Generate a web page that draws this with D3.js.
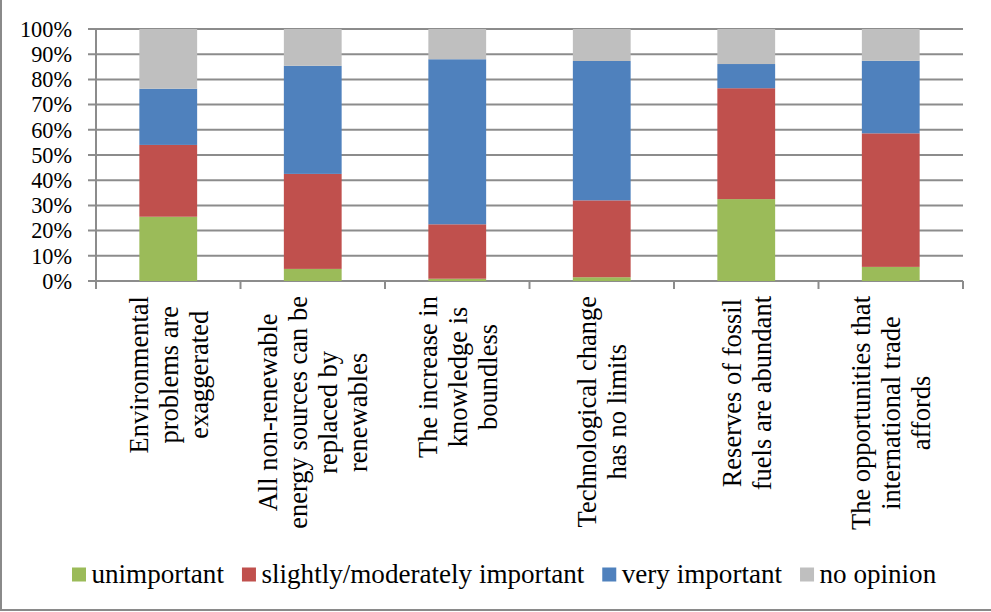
<!DOCTYPE html>
<html>
<head>
<meta charset="utf-8">
<script src="https://cdn.jsdelivr.net/npm/d3@7"></script>
<style>
  html, body { margin: 0; padding: 0; background: #fff; }
  svg { display: block; }
  text { font-family: "Liberation Serif", "Times New Roman", serif; fill: #000; }
</style>
</head>
<body>
<svg id="chart" width="991" height="612"></svg>
<script>
// ---- data ----
const categories = [
  ["Environmental", "problems are", "exaggerated"],
  ["All non-renewable", "energy sources can be", "replaced by", "renewables"],
  ["The increase in", "knowledge is", "boundless"],
  ["Technological change", "has no limits"],
  ["Reserves of fossil", "fuels are abundant"],
  ["The opportunities that", "international trade", "affords"]
];
const seriesNames = ["unimportant", "slightly/moderately important", "very important", "no opinion"];
const unimportant = [25.5, 4.8, 0.9, 1.5, 32.5, 5.6];
const slightlyModerately = [28.5, 37.7, 21.6, 30.5, 44.0, 53.0];
const veryImportant = [22.3, 42.9, 65.5, 55.3, 9.6, 28.8];
const noOpinion = [23.7, 14.6, 12.0, 12.7, 13.9, 12.6];
const yTicks = [0, 10, 20, 30, 40, 50, 60, 70, 80, 90, 100];
const colors = ["#9BBB59", "#C0504D", "#4F81BD", "#BFBFBF"];

(function () {
const keys = ["u", "s", "v", "n"];
const rows = categories.map((c, i) => ({
  idx: i, u: unimportant[i], s: slightlyModerately[i], v: veryImportant[i], n: noOpinion[i]
}));
const stacked = d3.stack().keys(keys).offset(d3.stackOffsetExpand)(rows);

const svg = d3.select("#chart");
const pLeft = 96, pRight = 963, pTop = 29, pBottom = 281;

// outer border
svg.append("rect").attr("x", 1).attr("y", -5).attr("width", 1005).attr("height", 615)
  .attr("fill", "none").attr("stroke", "#8a8a8a").attr("stroke-width", 2);

const x = d3.scaleBand().domain(d3.range(categories.length)).range([pLeft, pRight])
  .paddingInner(0.6).paddingOuter(0.3);
const xOuter = d3.scaleBand().domain(d3.range(categories.length)).range([pLeft, pRight]);
const y = d3.scaleLinear().domain([0, 1]).range([pBottom, pTop]);

const gridColor = "#8c8c8c";
svg.append("g").selectAll("line").data(yTicks).join("line")
  .attr("x1", pLeft - 8).attr("x2", pRight)
  .attr("y1", d => y(d / 100)).attr("y2", d => y(d / 100))
  .attr("stroke", gridColor).attr("stroke-width", 2);

svg.append("g").selectAll("text").data(yTicks).join("text")
  .attr("x", 72).attr("y", d => y(d / 100))
  .attr("dy", "0.35em")
  .attr("text-anchor", "end")
  .style("font-size", "22.3px")
  .text(d => d + "%");

svg.append("g").selectAll("g").data(stacked).join("g")
  .attr("fill", (d, i) => colors[i])
  .selectAll("rect").data(d => d).join("rect")
  .attr("x", d => x(d.data.idx))
  .attr("width", x.bandwidth())
  .attr("y", d => y(d[1]))
  .attr("height", d => y(d[0]) - y(d[1]));

svg.append("line").attr("x1", pLeft).attr("x2", pLeft).attr("y1", pTop).attr("y2", pBottom + 8)
  .attr("stroke", gridColor).attr("stroke-width", 2);
const boundaries = d3.range(categories.length + 1).map(i => i < categories.length ? xOuter(i) : pRight);
svg.append("g").selectAll("line").data(boundaries).join("line")
  .attr("x1", d => d).attr("x2", d => d).attr("y1", pBottom).attr("y2", pBottom + 8)
  .attr("stroke", gridColor).attr("stroke-width", 2);

const labelTop = 296, lineGap = 30;
categories.forEach((lines, i) => {
  const cx = x(i) + x.bandwidth() / 2;
  const g = svg.append("g");
  const t = g.append("text")
    .attr("text-anchor", "middle")
    .style("font-size", "26.5px");
  lines.forEach((ln, j) => {
    t.append("tspan").attr("x", 0)
      .attr("y", (j - (lines.length - 1) / 2) * lineGap)
      .attr("dy", "0.35em")
      .text(ln);
  });
  let maxLen = 0;
  t.selectAll("tspan").each(function () { maxLen = Math.max(maxLen, this.getComputedTextLength()); });
  const cy = labelTop + maxLen / 2;
  g.attr("transform", `translate(${cx},${cy}) rotate(-90)`);
});

const legend = svg.append("g");
let lx = 72;
const ly = 583;
seriesNames.forEach((name, i) => {
  legend.append("rect").attr("x", lx).attr("y", ly - 15.5).attr("width", 14).attr("height", 14)
    .attr("fill", colors[i]);
  const t = legend.append("text").attr("x", lx + 19.5).attr("y", ly)
    .style("font-size", "27.1px").text(name);
  lx += 19.5 + t.node().getComputedTextLength() + 18;
});
})();
</script>
</body>
</html>
